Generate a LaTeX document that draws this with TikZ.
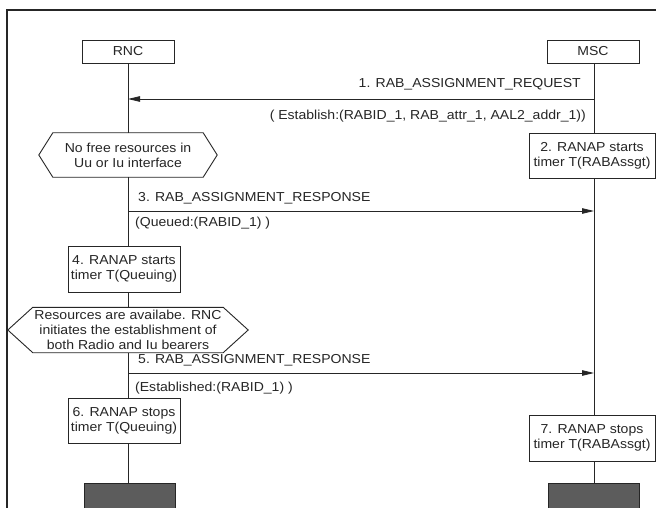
\documentclass[tikz,border=0pt]{standalone}
\usepackage{fontspec}
\setmainfont{Liberation Sans}[FakeStretch=1.08]
\usetikzlibrary{arrows.meta,backgrounds}
\definecolor{ink}{HTML}{262626}
\definecolor{endfill}{HTML}{5C5C5C}
\begin{document}
\begin{tikzpicture}[x=1pt,y=-1pt,
  every node/.style={font=\fontsize{13}{15}\selectfont, text=ink},
  entity/.style={draw=ink, line width=0.9pt, fill=white, minimum width=92pt, minimum height=23pt, inner sep=0pt},
  action/.style={draw=ink, line width=0.9pt, fill=white, align=center, inner sep=0pt},
  condition/.style={fill=white, align=center, inner sep=0pt},
  stopbar/.style={draw=ink, line width=0.7pt, fill=endfill, minimum width=91pt, minimum height=30pt, inner sep=0pt},
  lifeline/.style={draw=ink, line width=0.8pt},
  msg/.style={draw=ink, line width=0.8pt, -{Triangle[length=12pt,width=5.5pt]}},
  lbl/.style={inner sep=0pt}
]
\useasboundingbox (0,0) rectangle (656,508);

% outer frame
\draw[ink, line width=1.8pt] (7,508) -- (7,10) -- (656,10);

% entities
\node[entity] (rnc) at (128,51.5) {RNC};
\node[entity] (msc) at (593,51.5) {MSC};
\coordinate (rncx) at (128,0);
\coordinate (mscx) at (594,0);

% end bars
\node[stopbar] (rncend) at (129.5,498) {};
\node[stopbar] (mscend) at (593.5,498) {};

% lifelines, kept behind the boxes
\begin{scope}[on background layer]
  \fill[white] (0,0) rectangle (656,508);
  \draw[lifeline] (rnc.south -| rncx) -- (rncend.north -| rncx);
  \draw[lifeline] (msc.south -| mscx) -- (mscend.north -| mscx);
\end{scope}

% 1. request
\coordinate (m1a) at (594,99);
\coordinate (m1b) at (128,99);
\draw[msg] (m1a) -- (m1b);
\node[lbl, anchor=base east] (l1) at (581,88) {1. RAB\_ASSIGNMENT\_REQUEST};
\node[lbl, anchor=base east] (l1p) at (586,120) {( Establish:(RABID\_1, RAB\_attr\_1, AAL2\_addr\_1))};

% no resources condition
\node[condition, minimum width=150pt, minimum height=44pt] (c1) at (128,155)
  {No free resources in\\Uu or Iu interface};
\draw[ink, line width=0.9pt] (c1.north west) -- (c1.north east) -- ([xshift=14pt]c1.east)
  -- (c1.south east) -- (c1.south west) -- ([xshift=-14pt]c1.west) -- cycle;

% 2. timer start
\node[action, minimum width=126pt, minimum height=45pt] (a2) at (592,155.5)
  {2. RANAP starts\\timer T(RABAssgt)};

% 3. response (queued)
\coordinate (m3a) at (128,211);
\coordinate (m3b) at (594,211);
\draw[msg] (m3a) -- (m3b);
\node[lbl, anchor=base west] (l3) at (138,201) {3. RAB\_ASSIGNMENT\_RESPONSE};
\node[lbl, anchor=base west] (l3p) at (135,226) {(Queued:(RABID\_1) )};

% 4. timer start
\node[action, minimum width=112pt, minimum height=46pt] (a4) at (124,269)
  {4. RANAP starts\\timer T(Queuing)};

% resources available condition
\node[condition, minimum width=190pt, minimum height=45pt] (c2) at (128,330)
  {Resources are availabe. RNC\\initiates the establishment of\\both Radio and Iu bearers};
\draw[ink, line width=0.9pt] (c2.north west) -- (c2.north east) -- ([xshift=25pt]c2.east)
  -- (c2.south east) -- (c2.south west) -- ([xshift=-25pt]c2.west) -- cycle;

% 5. response (established)
\coordinate (m5a) at (128,373);
\coordinate (m5b) at (594,373);
\draw[msg] (m5a) -- (m5b);
\node[lbl, anchor=base west] (l5) at (138,363) {5. RAB\_ASSIGNMENT\_RESPONSE};
\node[lbl, anchor=base west] (l5p) at (135,391) {(Established:(RABID\_1) )};

% 6. and 7. timer stops
\node[action, minimum width=112pt, minimum height=45pt] (a6) at (124,420.5)
  {6. RANAP stops\\timer T(Queuing)};
\node[action, minimum width=126pt, minimum height=46pt] (a7) at (592,438)
  {7. RANAP stops\\timer T(RABAssgt)};
\end{tikzpicture}
\end{document}
